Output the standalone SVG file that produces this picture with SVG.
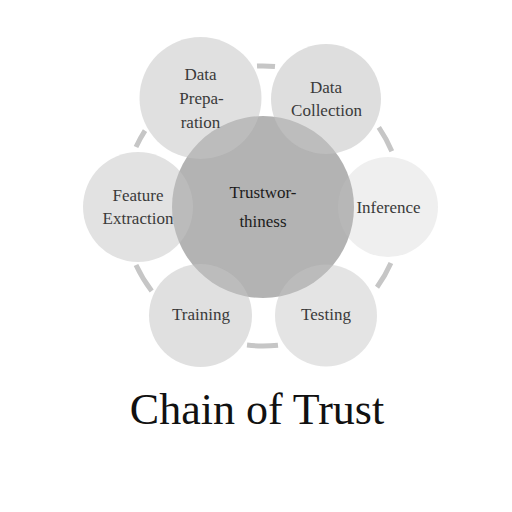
<svg xmlns="http://www.w3.org/2000/svg" width="512" height="512" viewBox="0 0 512 512">
  <style>
    .arc { fill: none; stroke: #c6c6c6; stroke-width: 5; }
    .outer { fill: #c4c4c4; }
    .lbl { font-family: "Liberation Serif", "Times New Roman", serif; font-size: 17px; fill: #3a3a3a; text-anchor: middle; }
    .clbl { font-family: "Liberation Serif", "Times New Roman", serif; font-size: 17px; fill: #1c1c1c; text-anchor: middle; }
    .title { font-family: "Liberation Serif", "Times New Roman", serif; font-size: 44px; fill: #111; text-anchor: middle; }
  </style>
  <rect width="512" height="512" fill="#ffffff"/>
  <g id="connectors">
    <path class="arc" d="M257,66.1 A140,140 0 0 1 275,66.5"/>
    <path class="arc" d="M378.8,127.4 A140,140 0 0 1 391.8,151.2"/>
    <path class="arc" d="M390.9,262.9 A140,140 0 0 1 377,287.3"/>
    <path class="arc" d="M278,345.2 A140,140 0 0 1 247,345.1"/>
    <path class="arc" d="M151.7,291 A140,140 0 0 1 136,265"/>
    <path class="arc" d="M136,147 A140,140 0 0 1 145,130.6"/>
  </g>
  <g id="trustworthiness">
    <circle cx="263" cy="207" r="91" fill="#b3b3b3"/>
  </g>
  <g id="data-preparation">
    <circle class="outer" cx="200.5" cy="98" r="61" fill-opacity="0.53"/>
    <text class="lbl" x="200.5" y="80">Data</text>
    <text class="lbl" x="201.5" y="104">Prepa-</text>
    <text class="lbl" x="200.5" y="128">ration</text>
  </g>
  <g id="data-collection">
    <circle class="outer" cx="326" cy="99" r="55" fill-opacity="0.56"/>
    <text class="lbl" x="326" y="93">Data</text>
    <text class="lbl" x="326.5" y="116">Collection</text>
  </g>
  <g id="inference">
    <circle class="outer" cx="388" cy="207" r="50" fill-opacity="0.27"/>
    <text class="lbl" x="388.5" y="213">Inference</text>
  </g>
  <g id="testing">
    <circle class="outer" cx="326" cy="315.5" r="51" fill-opacity="0.46"/>
    <text class="lbl" x="326" y="320">Testing</text>
  </g>
  <g id="training">
    <circle class="outer" cx="200.5" cy="315.5" r="51.5" fill-opacity="0.53"/>
    <text class="lbl" x="201" y="320">Training</text>
  </g>
  <g id="feature-extraction">
    <circle class="outer" cx="138" cy="207" r="55" fill-opacity="0.49"/>
    <text class="lbl" x="138" y="201">Feature</text>
    <text class="lbl" x="138" y="224">Extraction</text>
  </g>
  <g id="center-label">
    <text class="clbl" x="263" y="198">Trustwor-</text>
    <text class="clbl" x="263" y="227">thiness</text>
  </g>
  <text class="title" x="257" y="424">Chain of Trust</text>
</svg>
